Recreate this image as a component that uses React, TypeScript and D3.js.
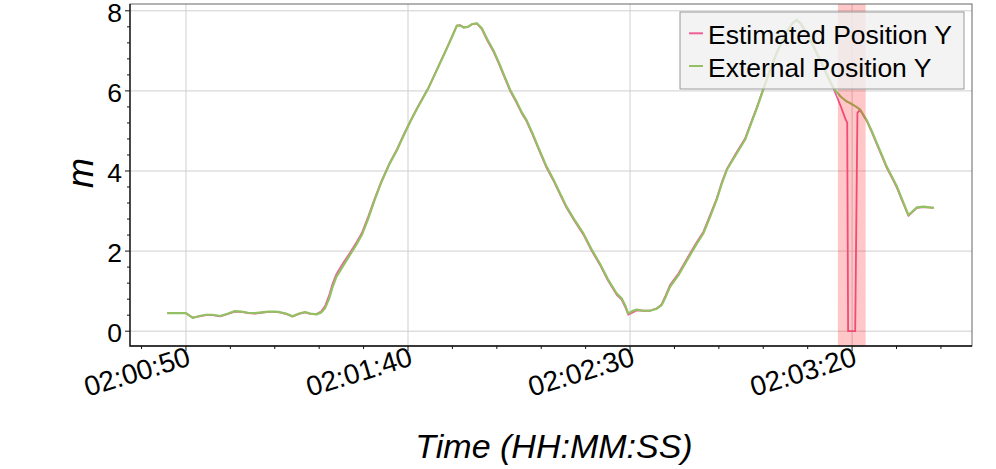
import * as d3 from "d3";
import { useEffect, useRef } from "react";

// seconds after 02:00:50
const secs = [
  -4.2, -2, 0, 1.5, 3, 4.5, 6, 7.7, 9.5, 11,
  12.5, 14, 15.5, 17, 18.5, 19.7, 21, 22.5, 24, 25.5,
  26.8, 28, 29.4, 30.5, 31.3, 32.2, 33, 33.9, 35.5, 36.9,
  38.3, 39.6, 41, 42.4, 44, 45.9, 47.5, 49, 50.5, 52,
  53.5, 54.6, 56, 57.2, 58.5, 59.8, 61, 61.8, 62.5, 63.5,
  64.5, 65.5, 66.6, 67.8, 69.2, 70.5, 71.8, 73, 74.5, 75.7,
  76.7, 78, 79.5, 81.2, 82.7, 84.2, 85.7, 87.5, 89.5, 91.3,
  93.2, 95, 97, 98.1, 99, 99.6, 100.5, 101.5, 103, 104.5,
  106, 107.1, 108, 109, 110.9, 112.2, 113.5, 115, 116.5, 118,
  119.5, 120.7, 121.8, 123.8, 125.9, 127, 128.5, 130, 131.5, 133,
  134.2, 135.3, 136.5, 137.5, 138.5, 139.8, 141.3, 142.8, 144.3, 145.8,
  147.4, 148.5, 148.9, 149.1, 149.6, 150.7, 151.2, 151.8, 153.3, 154.5,
  155.6, 156.7, 157.8, 159, 160.1, 161.4, 162.7, 163.5, 164.6, 166.1,
  167.3, 168.4,
];

const externalY = [
  0.45, 0.45, 0.45, 0.33, 0.38, 0.41, 0.41, 0.38, 0.44, 0.5,
  0.49, 0.46, 0.45, 0.47, 0.49, 0.49, 0.48, 0.44, 0.37, 0.44,
  0.48, 0.44, 0.42, 0.47, 0.57, 0.8, 1.1, 1.36, 1.65, 1.9,
  2.15, 2.4, 2.8, 3.25, 3.72, 4.19, 4.52, 4.88, 5.23, 5.55,
  5.85, 6.07, 6.4, 6.69, 7.0, 7.32, 7.63, 7.63, 7.58, 7.6,
  7.67, 7.69, 7.57, 7.3, 7.02, 6.7, 6.35, 6.03, 5.72, 5.45,
  5.27, 4.95, 4.55, 4.11, 3.8, 3.45, 3.11, 2.78, 2.44, 2.05,
  1.69, 1.3, 0.94, 0.82, 0.62, 0.44, 0.5, 0.54, 0.51, 0.51,
  0.56, 0.65, 0.85, 1.11, 1.4, 1.65, 1.9, 2.18, 2.44, 2.85,
  3.28, 3.7, 4.03, 4.4, 4.78, 5.11, 5.55, 6.03, 6.5, 6.94,
  7.22, 7.48, 7.68, 7.78, 7.68, 7.44, 7.12, 6.78, 6.42, 6.07,
  5.86, 5.76, 5.73, 5.72, 5.69, 5.62, 5.58, 5.53, 5.27, 4.98,
  4.69, 4.4, 4.11, 3.85, 3.61, 3.25, 2.9, 2.98, 3.09, 3.11,
  3.09, 3.08,
];

const estimatedY = [
  0.45, 0.45, 0.45, 0.34, 0.37, 0.4, 0.4, 0.37, 0.43, 0.49,
  0.48, 0.45, 0.44, 0.46, 0.48, 0.48, 0.47, 0.43, 0.37, 0.43,
  0.47, 0.43, 0.43, 0.5, 0.62, 0.88, 1.18, 1.43, 1.72, 1.95,
  2.2, 2.45, 2.85, 3.28, 3.74, 4.21, 4.54, 4.9, 5.24, 5.56,
  5.86, 6.08, 6.41, 6.7, 7.01, 7.33, 7.63, 7.64, 7.59, 7.6,
  7.67, 7.68, 7.55, 7.27, 6.99, 6.67, 6.32, 6.0, 5.69, 5.42,
  5.24, 4.92, 4.52, 4.08, 3.77, 3.42, 3.08, 2.75, 2.41, 2.02,
  1.66, 1.27, 0.91, 0.79, 0.58, 0.41, 0.46, 0.52, 0.51, 0.51,
  0.57, 0.67, 0.89, 1.15, 1.44, 1.69, 1.94, 2.22, 2.48, 2.89,
  3.31, 3.73, 4.05, 4.43, 4.81, 5.14, 5.58, 6.05, 6.52, 6.95,
  7.23, 7.49, 7.68, 7.77, 7.66, 7.42, 7.1, 6.76, 6.4, 6.06,
  5.63, 5.3, 5.2, 0, 0, 0, 5.45, 5.53, 5.25, 4.95,
  4.66, 4.37, 4.08, 3.82, 3.58, 3.22, 2.88, 2.97, 3.08, 3.1,
  3.09, 3.08,
];

// highlighted interval, seconds after 02:00:50
const bandSecs = [146.8, 153.05];

const seriesNames = ["Estimated Position Y", "External Position Y"];
const seriesColors = ["#ee5f98", "#93c062"];
const yTicks = [0, 2, 4, 6, 8];

const base = Date.UTC(2020, 0, 1, 2, 0, 50);
const toDate = (s: number) => new Date(base + s * 1000);

export default function App() {
  const ref = useRef<SVGSVGElement>(null);

  useEffect(() => {
    const svg = d3.select(ref.current);
    svg.selectAll("*").remove();

    const width = 996;
    const height = 469;
    const left = 130;
    const right = 972;
    const top = 4;
    const bottom = 346;
    const font = "'Liberation Sans', Arial, Helvetica, sans-serif";

    svg.attr("width", width).attr("height", height);

    const x = d3
      .scaleUtc()
      .domain([toDate(-12.6), toDate(177)])
      .range([left, right]);
    const y = d3.scaleLinear().domain([-0.37, 8.17]).range([bottom, top]);

    const majorX = d3.range(0, 177, 50).map(toDate);
    const minorX = d3.range(-10, 177, 10).map(toDate);
    const minorY = d3.range(0, 8.01, 0.4);

    // grid
    const grid = svg.append("g").attr("stroke", "#cfcfcf").attr("stroke-width", 1);
    majorX.forEach((d) => {
      grid.append("line")
        .attr("x1", x(d)).attr("x2", x(d))
        .attr("y1", top).attr("y2", bottom);
    });
    yTicks.forEach((d) => {
      grid.append("line")
        .attr("x1", left).attr("x2", right)
        .attr("y1", y(d)).attr("y2", y(d));
    });

    const clip = svg.append("clipPath").attr("id", "plotclip");
    clip.append("rect")
      .attr("x", left).attr("y", top)
      .attr("width", right - left).attr("height", bottom - top);

    const plot = svg.append("g").attr("clip-path", "url(#plotclip)");

    const line = d3
      .line<number>()
      .x((_, i) => x(toDate(secs[i])))
      .y((d) => y(d));

    [estimatedY, externalY].forEach((vals, i) => {
      plot.append("path")
        .attr("d", line(vals))
        .attr("fill", "none")
        .attr("stroke", seriesColors[i])
        .attr("stroke-width", i === 0 ? 1.8 : 2.2)
        .attr("stroke-linejoin", "round");
    });

    // highlighted region
    plot.append("rect")
      .attr("x", x(toDate(bandSecs[0])))
      .attr("width", x(toDate(bandSecs[1])) - x(toDate(bandSecs[0])))
      .attr("y", top)
      .attr("height", bottom - top)
      .attr("fill", "#ff0000")
      .attr("opacity", 0.22);

    // frame
    svg.append("rect")
      .attr("x", left).attr("y", top)
      .attr("width", right - left).attr("height", bottom - top)
      .attr("fill", "none")
      .attr("stroke", "#666")
      .attr("stroke-width", 1);
    svg.append("path")
      .attr("d", `M${left},${top}V${bottom}H${right}`)
      .attr("fill", "none")
      .attr("stroke", "#111")
      .attr("stroke-width", 1.3);

    // ticks
    const ticks = svg.append("g").attr("stroke", "#111").attr("stroke-width", 1);
    minorX.forEach((d) => {
      const major = majorX.some((m) => +m === +d);
      ticks.append("line")
        .attr("x1", x(d)).attr("x2", x(d))
        .attr("y1", bottom).attr("y2", bottom + (major ? 5 : 3));
    });
    minorY.forEach((d) => {
      const major = yTicks.some((m) => Math.abs(m - d) < 1e-6);
      ticks.append("line")
        .attr("x1", left - (major ? 5 : 3)).attr("x2", left)
        .attr("y1", y(d)).attr("y2", y(d));
    });

    const fmt = d3.utcFormat("%H:%M:%S");
    majorX.forEach((d) => {
      svg.append("text")
        .attr("transform", `translate(${x(d) + 6},${bottom + 19}) rotate(-17)`)
        .attr("text-anchor", "end")
        .attr("font-family", font)
        .attr("font-size", 28)
        .text(fmt(d));
    });
    yTicks.forEach((d) => {
      svg.append("text")
        .attr("x", left - 8)
        .attr("y", y(d) + 11)
        .attr("text-anchor", "end")
        .attr("font-family", font)
        .attr("font-size", 26.5)
        .text(d);
    });

    // axis labels
    svg.append("text")
      .attr("x", 554)
      .attr("y", 458)
      .attr("text-anchor", "middle")
      .attr("font-family", font)
      .attr("font-style", "italic")
      .attr("font-size", 34)
      .text("Time (HH:MM:SS)");
    svg.append("text")
      .attr("transform", "translate(93,173) rotate(-90)")
      .attr("text-anchor", "middle")
      .attr("font-family", font)
      .attr("font-style", "italic")
      .attr("font-size", 36)
      .text("m");

    // legend
    const lg = svg.append("g");
    lg.append("rect")
      .attr("x", 680).attr("y", 12)
      .attr("width", 284).attr("height", 77)
      .attr("fill", "#f0f0f0")
      .attr("fill-opacity", 0.8)
      .attr("stroke", "#9a9a9a")
      .attr("stroke-width", 1);
    seriesNames.forEach((name, i) => {
      const cy = 33.3 + i * 32.7;
      lg.append("line")
        .attr("x1", 689).attr("x2", 703)
        .attr("y1", cy).attr("y2", cy)
        .attr("stroke", seriesColors[i])
        .attr("stroke-width", 2);
      lg.append("text")
        .attr("x", 708)
        .attr("y", cy + 10.5)
        .attr("font-family", font)
        .attr("font-size", 26.5)
        .text(name);
    });
  }, []);

  return (
    <svg
      ref={ref}
      style={{ position: "absolute", left: 0, top: 0, display: "block" }}
    ></svg>
  );
}
